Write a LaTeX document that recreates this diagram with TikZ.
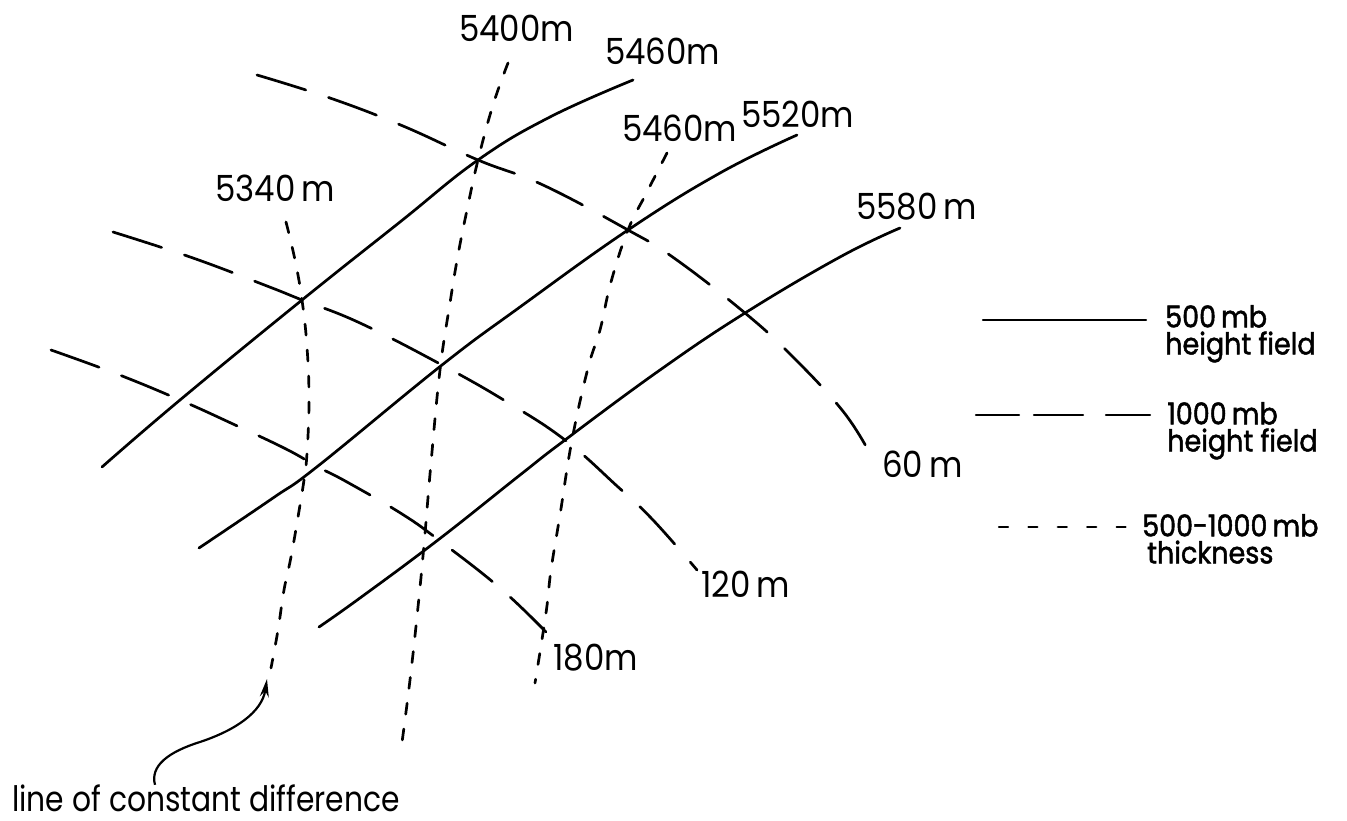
\documentclass[tikz,border=0pt]{standalone}
\usepackage{fontspec}
\setmainfont{Poppins}[FakeStretch=0.9]
\newfontfamily\keyfont{Poppins}[FakeStretch=0.9,FakeBold=1.6]
\newfontfamily\notefont{Poppins}[FakeStretch=0.85]
\usetikzlibrary{arrows.meta}

\begin{document}
\begin{tikzpicture}[x=1pt,y=-1pt,
  contour/.style={line width=2.7pt, line cap=round},
  hgtfivehundred/.style={contour},
  hgtthousand/.style={contour, dash pattern=on 51pt off 24pt},
  thkline/.style={contour, dash pattern=on 11pt off 15pt},
  lbl/.style={font=\fontsize{36}{40}\selectfont, inner sep=0pt, anchor=base west,
    text height=26pt, text depth=0pt},
  keytext/.style={font=\keyfont\fontsize{30}{27}\selectfont, inner sep=0pt,
    anchor=north west, align=left},
  keysample/.style={line width=2.2pt, line cap=round},
  pointer/.style={line width=2.2pt, -{Stealth[length=18pt,width=9pt]}},
]
\useasboundingbox (0,0) rectangle (1347,821);

% 500 mb height contours (solid)
\draw[hgtfivehundred] plot[smooth, tension=0.7] coordinates
  {(102,467) (180,400) (302,300) (400,222) (478,160) (550,117) (633,80)};
\draw[hgtfivehundred] plot[smooth, tension=0.7] coordinates
  {(199,548) (273,498) (318,466) (442,365) (520,307) (628,230) (720,173) (797,135)};
\draw[hgtfivehundred] plot[smooth, tension=0.7] coordinates
  {(319,627) (360,598) (438,540) (520,475) (565,440) (660,370) (745,313) (840,257) (900,228)};

% 1000 mb height contours (long dashes)
\draw[hgtthousand] plot[smooth, tension=0.7] coordinates
  {(257,75) (330,98) (403,126) (478,160) (543,185) (628,230) (674,258) (745,313) (793,357) (842,410) (868,450)};
\draw[hgtthousand] plot[smooth, tension=0.7] coordinates
  {(113,232) (193,258) (267,286) (302,300) (360,323) (442,365) (507,402) (565,440) (617,486) (653,520) (697,570)};
\draw[hgtthousand] plot[smooth, tension=0.7] coordinates
  {(51,350) (117,374) (180,400) (233,424) (286,449) (318,467) (347,482) (402,514) (440,541) (500,588) (546,632)};

% 500-1000 mb thickness lines (short dashes)
\draw[thkline] plot[smooth, tension=0.7] coordinates
  {(286,222) (295,260) (302,300) (307,347) (309,400) (307,453) (304,480) (298,517) (291,557) (284,590) (278,630) (271,668)};
\draw[thkline] plot[smooth, tension=0.7] coordinates
  {(508,63) (493,105) (478,160) (467,210) (458,255) (450,303) (440,370) (431,463) (424,545) (418,607) (410,680) (401,750)};
\draw[thkline] plot[smooth, tension=0.7] coordinates
  {(667,153) (647,192) (628,230) (611,282) (600,330) (588,368) (572,440) (560,515) (551,570) (546,613) (535,683)};

% contour labels
\node[lbl] (l5400) at (459,42) {5400m};
\node[lbl] (l5460a) at (605,65) {5460m};
\node[lbl] (l5460b) at (622,142) {5460m};
\node[lbl] (l5520) at (741,128) {5520m};
\node[lbl] (l5340) at (215,202) {5340\,m};
\node[lbl] (l5580) at (856,220) {5580\,m};
\node[lbl] (l60) at (882,477) {60\,m};
\node[lbl] (l120) at (701,597) {120\,m};
\node[lbl] (l180) at (553,670) {180m};

% key
\coordinate (ka1) at (983,320);  \coordinate (ka2) at (1146,320);
\coordinate (kb1) at (976,415);  \coordinate (kb2) at (1150,415);
\coordinate (kc1) at (999,527);  \coordinate (kc2) at (1126,527);
\draw[keysample] (ka1) -- (ka2);
\draw[keysample, dash pattern=on 43pt off 15pt on 49pt off 23pt on 44pt off 20pt] (kb1) -- (kb2);
\draw[keysample, dash pattern=on 9pt off 20.4pt] (kc1) -- (kc2);
\node[keytext] (ka) at (1165,305) {500\,mb\\height field};
\node[keytext] (kb) at (1167,402) {1000\,mb\\height field};
\node[keytext] (kc) at (1142,514) {500-1000\,mb\\\hspace{5pt}thickness};

% annotation
\node[inner sep=0pt, anchor=base west, text height=26pt, text depth=0pt,
  font=\notefont\fontsize{35}{40}\selectfont] (lcd) at (12,811) {line of constant difference};
\coordinate (arrtip) at (267,679);
\draw[pointer] ([xshift=143pt]lcd.north west) .. controls (150,766) and (168,752) .. (200,742)
  .. controls (236,730) and (262,712) .. (arrtip);
\end{tikzpicture}
\end{document}
